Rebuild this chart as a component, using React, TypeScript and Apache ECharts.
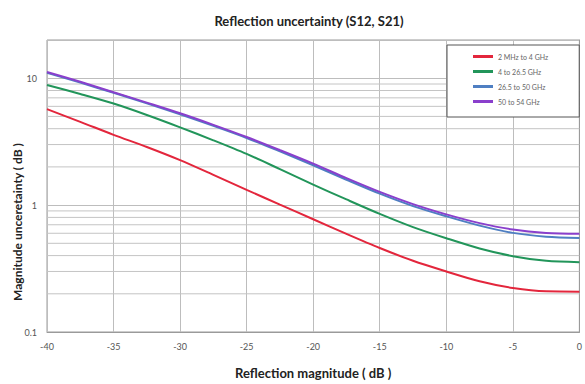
import React, { useEffect, useRef } from "react";
import * as echarts from "echarts";

const titleText = "Reflection uncertainty (S12, S21)";
const xName = "Reflection magnitude ( dB )";
const yName = "Magnitude unceretainty ( dB )";

const xValues = [-40, -37.5, -35, -32.5, -30, -27.5, -25, -22.5, -20, -17.5, -15, -12.5, -10, -7.5, -5, -2.5, 0];

const seriesNames = ["2 MHz to 4 GHz", "4 to 26.5 GHz", "26.5 to 50 GHz", "50 to 54 GHz"];
const seriesColors = ["#e3263c", "#22955a", "#4f7fc2", "#8a3fcc"];

const red = [5.7, 4.53, 3.58, 2.87, 2.26, 1.73, 1.32, 1.009, 0.774, 0.593, 0.459, 0.364, 0.3, 0.251, 0.222, 0.209, 0.208];
const green = [8.84, 7.51, 6.31, 5.13, 4.1, 3.24, 2.53, 1.92, 1.45, 1.108, 0.853, 0.671, 0.548, 0.455, 0.396, 0.364, 0.355];
const blue = [11.02, 9.23, 7.67, 6.33, 5.19, 4.21, 3.38, 2.65, 2.06, 1.585, 1.23, 0.982, 0.816, 0.689, 0.604, 0.564, 0.551];
const purple = [11.18, 9.37, 7.76, 6.42, 5.29, 4.29, 3.44, 2.71, 2.12, 1.63, 1.27, 1.018, 0.845, 0.721, 0.642, 0.604, 0.595];

const seriesValues = [red, green, blue, purple];

const minorGridValues = [0.2, 0.3, 0.4, 0.5, 0.6, 0.7, 0.8, 0.9, 2, 3, 4, 5, 6, 7, 8, 9];
const majorYLabels = [0.1, 1, 10];

const FONT = "Lato";

export default function App() {
  const ref = useRef<HTMLDivElement>(null);
  useEffect(() => {
    if (!ref.current) return;
    const chart = echarts.init(ref.current, undefined, { renderer: "svg" });
    const xMin = xValues[0];
    const xMax = xValues[xValues.length - 1];
    const gridSeries = minorGridValues.map((v) => ({
      type: "line",
      name: "grid" + v,
      silent: true,
      showSymbol: false,
      symbol: "none",
      data: [[xMin, v], [xMax, v]],
      lineStyle: { color: "#c4c4c4", width: 1 },
      z: 1,
    }));
    const lineSeries = seriesNames.map((name, i) => ({
      name,
      type: "line",
      smooth: 0.3,
      showSymbol: false,
      symbol: "none",
      data: xValues.map((x, j) => [x, seriesValues[i][j]]),
      lineStyle: { color: seriesColors[i], width: 2 },
      itemStyle: { color: seriesColors[i] },
      z: 3 + i,
    }));
    chart.setOption({
      animation: false,
      backgroundColor: "#ffffff",
      textStyle: { fontFamily: FONT },
      title: {
        text: titleText,
        left: 304,
        top: 9,
        textAlign: "center",
        textStyle: { fontFamily: FONT, fontSize: 13, fontWeight: "bold", color: "#222" },
      },
      grid: {
        left: 47,
        right: 4,
        top: 40,
        bottom: 46,
        show: true,
        borderColor: "#9a9a9a",
        borderWidth: 1,
        containLabel: false,
      },
      legend: {
        data: seriesNames,
        orient: "vertical",
        left: 447,
        top: 45,
        padding: [8, 31, 12, 26],
        itemGap: 8,
        itemWidth: 20,
        itemHeight: 3,
        icon: "rect",
        backgroundColor: "#ffffff",
        borderColor: "#555",
        borderWidth: 1,
        z: 10,
        textStyle: { fontFamily: FONT, fontSize: 7, color: "#666" },
      },
      xAxis: {
        type: "value",
        min: -40,
        max: 0,
        interval: 5,
        name: xName,
        nameLocation: "middle",
        nameGap: 34,
        nameTextStyle: { fontFamily: FONT, fontSize: 13, fontWeight: "bold", color: "#222" },
        axisLine: { show: true, lineStyle: { color: "#9a9a9a" } },
        axisTick: { show: false },
        axisLabel: { fontSize: 9, color: "#555", margin: 10, fontFamily: FONT },
        splitLine: { show: true, lineStyle: { color: "#bdbdbd", width: 1 } },
      },
      yAxis: {
        type: "log",
        logBase: 10,
        min: 0.1,
        max: 20,
        axisLine: { show: true, lineStyle: { color: "#9a9a9a" } },
        axisTick: { show: false },
        axisLabel: {
          fontSize: 9,
          color: "#555",
          margin: 10,
          fontFamily: FONT,
          formatter: (v: number) => {
            const hit = majorYLabels.find((m) => Math.abs(m - v) / m < 1e-6);
            return hit !== undefined ? String(hit) : "";
          },
        },
        splitLine: { show: true, lineStyle: { color: "#bdbdbd", width: 1 } },
      },
      graphic: [
        {
          type: "text",
          x: 17,
          y: 222,
          rotation: Math.PI / 2,
          style: {
            text: yName,
            fontFamily: FONT,
            fontSize: 12,
            fontWeight: "bold",
            fill: "#222",
            align: "center",
            verticalAlign: "middle",
          },
        },
      ],
      series: [...gridSeries, ...lineSeries],
    });
    return () => chart.dispose();
  }, []);
  return <div ref={ref} style={{ width: 585, height: 384, position: "absolute", left: 0, top: 0 }} />;
}
